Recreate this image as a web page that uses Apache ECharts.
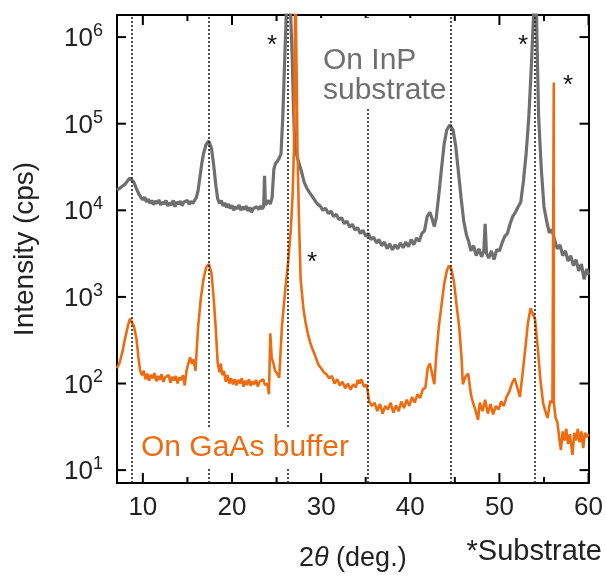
<!DOCTYPE html>
<html>
<head>
<meta charset="utf-8">
<title>XRD</title>
<script src="https://cdn.jsdelivr.net/npm/echarts@6/dist/echarts.min.js"></script>
<style>
  html, body { margin: 0; padding: 0; background: #fff; }
  #chart { width: 606px; height: 577px; }
</style>
</head>
<body>
<div id="chart"></div>
<script>
// 2θ (deg.), intensity (cps) -- film on InP substrate
const onInP = [
  [7.1, 1.7e4], [7.4, 1.8e4], [7.7, 1.9e4], [8.0, 2.0e4], [8.3, 2.2e4], [8.55, 2.35e4], [8.75, 2.4e4],
  [9.0, 2.1e4], [9.3, 1.75e4], [9.55, 1.55e4], [9.8, 1.4e4], [10.0, 1.32e4], [10.2, 1.42e4], [10.4, 1.25e4],
  [10.6, 1.35e4], [10.8, 1.2e4], [11.0, 1.3e4], [11.2, 1.16e4], [11.4, 1.28e4], [11.6, 1.2e4], [11.8, 1.32e4],
  [12.0, 1.15e4], [12.2, 1.25e4], [12.4, 1.18e4], [12.6, 1.3e4], [12.8, 1.12e4], [13.0, 1.22e4], [13.2, 1.15e4],
  [13.4, 1.3e4], [13.6, 1.1e4], [13.8, 1.25e4], [14.0, 1.18e4], [14.2, 1.28e4], [14.4, 1.13e4], [14.6, 1.25e4],
  [14.8, 1.2e4], [15.0, 1.3e4], [15.2, 1.17e4], [15.4, 1.27e4], [15.6, 1.2e4], [15.8, 1.3e4], [16.0, 1.4e4],
  [16.2, 1.7e4], [16.4, 2.4e4], [16.6, 3.4e4], [16.8, 4.5e4], [17.1, 5.8e4], [17.4, 6.3e4], [17.7, 5.2e4],
  [17.95, 3.3e4], [18.2, 1.9e4], [18.4, 1.35e4], [18.6, 1.2e4], [18.8, 1.3e4], [19.0, 1.12e4], [19.2, 1.22e4],
  [19.4, 1.08e4], [19.6, 1.18e4], [19.8, 1.05e4], [20.0, 1.14e4], [20.2, 1.0e4], [20.4, 1.1e4], [20.6, 1.04e4],
  [20.8, 1.15e4], [21.0, 1.0e4], [21.2, 1.1e4], [21.4, 1.02e4], [21.6, 1.12e4], [21.8, 9.8e3], [22.0, 1.08e4],
  [22.2, 9.5e3], [22.4, 1.05e4], [22.6, 1.0e4], [22.8, 1.1e4], [23.0, 1.02e4], [23.2, 1.12e4], [23.4, 1.04e4],
  [23.55, 1.1e4], [23.65, 2.5e4], [23.75, 1.15e4], [23.9, 1.2e4], [24.1, 1.3e4], [24.3, 1.18e4], [24.5, 1.4e4],
  [24.7, 3.0e4], [24.9, 3.5e4], [25.1, 3.7e4], [25.3, 4.0e4], [25.5, 4.5e4], [25.7, 1.2e5], [25.9, 5e5],
  [26.1, 2e6], [26.3, 8e6], [26.5, 3e6], [26.75, 6e5], [26.9, 1.5e5], [27.05, 5.5e4], [27.3, 4.2e4],
  [27.5, 4.0e4], [27.8, 2.8e4], [28.1, 2.1e4], [28.4, 1.8e4], [28.7, 1.6e4], [29.0, 1.45e4], [29.3, 1.3e4],
  [29.6, 1.18e4], [29.9, 1.12e4], [30.2, 1.0e4], [30.5, 1.06e4], [30.8, 9.2e3], [31.1, 9.8e3], [31.4, 8.5e3],
  [31.7, 9.0e3], [32.0, 7.8e3], [32.3, 8.2e3], [32.6, 7.0e3], [32.9, 7.5e3], [33.2, 6.4e3], [33.5, 6.9e3],
  [33.8, 5.9e3], [34.1, 6.3e3], [34.4, 5.4e3], [34.7, 5.9e3], [35.0, 5.0e3], [35.3, 5.4e3], [35.6, 4.6e3],
  [35.9, 4.9e3], [36.2, 4.2e3], [36.5, 4.6e3], [36.8, 3.9e3], [37.1, 4.3e3], [37.4, 3.6e3], [37.7, 4.1e3],
  [38.0, 3.5e3], [38.3, 4.0e3], [38.6, 3.6e3], [38.9, 4.2e3], [39.2, 3.7e3], [39.5, 4.3e3], [39.8, 3.8e3],
  [40.1, 4.6e3], [40.4, 4.0e3], [40.7, 4.8e3], [41.0, 4.4e3], [41.3, 5.4e3], [41.6, 5.8e3], [41.9, 8.5e3],
  [42.2, 9.5e3], [42.45, 8.0e3], [42.7, 6.5e3], [42.9, 8.0e3], [43.2, 1.5e4], [43.5, 3.0e4], [43.8, 5.8e4],
  [44.1, 8.5e4], [44.45, 9.7e4], [44.8, 8.5e4], [45.1, 5.5e4], [45.4, 2.8e4], [45.7, 1.4e4], [46.0, 7.5e3],
  [46.3, 5.2e3], [46.55, 4.4e3], [46.8, 3.4e3], [47.1, 3.9e3], [47.4, 3.0e3], [47.7, 3.6e3], [48.0, 2.9e3],
  [48.25, 3.4e3], [48.4, 7.0e3], [48.55, 3.2e3], [48.8, 2.8e3], [49.1, 3.4e3], [49.4, 2.7e3], [49.7, 3.5e3],
  [50.0, 3.4e3], [50.3, 4.2e3], [50.6, 5.0e3], [50.9, 5.4e3], [51.2, 7.0e3], [51.5, 8.5e3], [51.8, 9.5e3],
  [52.1, 1.1e4], [52.4, 1.25e4], [52.7, 2.2e4], [53.0, 4.5e4], [53.3, 1.2e5], [53.6, 5e5], [53.85, 2e6],
  [54.0, 8e6], [54.15, 2e6], [54.4, 1.2e5], [54.7, 3.0e4], [55.0, 1.1e4], [55.3, 7.5e3], [55.6, 5.5e3],
  [55.9, 6.0e3], [56.2, 4.5e3], [56.5, 3.6e3], [56.8, 4.0e3], [57.1, 3.0e3], [57.4, 3.4e3], [57.7, 2.6e3],
  [58.0, 3.0e3], [58.3, 2.3e3], [58.6, 2.7e3], [58.9, 2.0e3], [59.2, 2.4e3], [59.5, 1.6e3], [59.8, 2.1e3],
  [60.0, 1.8e3]
];

// film on GaAs buffer
const onGaAs = [
  [7.1, 150], [7.4, 175], [7.7, 230], [8.0, 330], [8.3, 450], [8.55, 560], [8.75, 580], [9.0, 460],
  [9.3, 320], [9.5, 200], [9.7, 140], [9.9, 125], [10.1, 140], [10.3, 112], [10.5, 130], [10.7, 108],
  [10.9, 126], [11.1, 115], [11.3, 132], [11.5, 106], [11.7, 122], [11.9, 110], [12.1, 128], [12.3, 104],
  [12.5, 118], [12.7, 112], [12.9, 125], [13.1, 102], [13.3, 120], [13.5, 108], [13.7, 122], [13.9, 100],
  [14.1, 118], [14.3, 110], [14.5, 125], [14.7, 95], [14.9, 140], [15.1, 170], [15.3, 200], [15.5, 170],
  [15.7, 190], [15.9, 140], [16.2, 450], [16.5, 950], [16.8, 1600], [17.1, 2200], [17.4, 2400], [17.7, 1900],
  [17.95, 950], [18.2, 400], [18.4, 170], [18.6, 135], [18.75, 170], [18.9, 125], [19.1, 140], [19.3, 105],
  [19.5, 125], [19.7, 100], [19.9, 115], [20.1, 98], [20.3, 112], [20.5, 95], [20.7, 110], [20.9, 100],
  [21.1, 115], [21.3, 92], [21.5, 108], [21.7, 96], [21.9, 112], [22.1, 94], [22.3, 106], [22.5, 98],
  [22.7, 110], [22.9, 92], [23.1, 105], [23.3, 100], [23.5, 112], [23.7, 96], [23.95, 100], [24.15, 75],
  [24.3, 380], [24.45, 200], [24.65, 170], [24.85, 140], [25.05, 130], [25.3, 117], [25.6, 450], [26.0, 1300],
  [26.3, 2500], [26.6, 6000], [26.8, 1.5e4], [26.95, 5e4], [27.05, 1e6], [27.12, 5e6], [27.2, 1e6], [27.35, 5e4],
  [27.5, 9e3], [27.7, 1.6e3], [28.0, 750], [28.25, 510], [28.5, 380], [28.8, 290], [29.1, 240], [29.4, 200],
  [29.7, 165], [30.0, 150], [30.3, 135], [30.6, 128], [30.9, 115], [31.2, 122], [31.5, 100], [31.8, 112],
  [32.1, 95], [32.4, 105], [32.7, 88], [33.0, 100], [33.3, 85], [33.6, 98], [33.9, 90], [34.1, 110],
  [34.3, 100], [34.5, 112], [34.8, 92], [35.1, 97], [35.4, 62], [35.7, 55], [36.0, 60], [36.3, 48],
  [36.6, 58], [36.9, 45], [37.2, 55], [37.5, 50], [37.8, 60], [38.1, 46], [38.4, 56], [38.7, 48],
  [39.0, 62], [39.3, 52], [39.6, 65], [39.9, 55], [40.2, 70], [40.5, 60], [40.8, 75], [41.1, 68],
  [41.4, 85], [41.7, 90], [41.95, 150], [42.2, 170], [42.45, 130], [42.7, 98], [42.9, 200], [43.2, 450],
  [43.5, 800], [43.8, 1400], [44.1, 2000], [44.35, 2300], [44.6, 2100], [44.9, 1500], [45.2, 800], [45.5, 440],
  [45.75, 200], [45.9, 98], [46.2, 120], [46.5, 130], [46.8, 75], [47.0, 62], [47.3, 50], [47.6, 38],
  [47.8, 60], [48.1, 48], [48.4, 65], [48.7, 45], [49.0, 58], [49.3, 44], [49.6, 55], [49.9, 50],
  [50.2, 62], [50.5, 55], [50.8, 70], [51.1, 80], [51.4, 100], [51.7, 115], [52.0, 90], [52.3, 70],
  [52.6, 130], [52.9, 250], [53.2, 500], [53.5, 740], [53.7, 760], [54.0, 550], [54.3, 260], [54.6, 110],
  [54.9, 60], [55.1, 50], [55.4, 40], [55.7, 63], [55.95, 60], [56.09, 60], [56.1, 3e5], [56.11, 60],
  [56.3, 40], [56.5, 36], [56.7, 24], [56.9, 17], [57.1, 28], [57.3, 22], [57.5, 30], [57.7, 20],
  [57.9, 26], [58.2, 15], [58.4, 27], [58.6, 22], [58.8, 30], [59.0, 21], [59.2, 28], [59.4, 18],
  [59.6, 27], [59.8, 24], [60.0, 26]
];

// film reflections (dotted guides)
const peakLines = [8.74, 17.4, 26.3, 35.25, 44.5, 54.0];

// tick positions
const xMajor = [10, 20, 30, 40, 50, 60];
const xMinor = [15, 25, 35, 45, 55];
const yDecades = [10, 100, 1000, 10000, 100000, 1000000];

const FONT = "Liberation Sans";
const GRAY = "#6f6f6f";
const ORANGE = "#ef6b10";

const chart = echarts.init(document.getElementById("chart"));

const axisStroke = { color: "#000", width: 2 };
const tickStyle = { stroke: "#000", lineWidth: 2 };

// inner ticks on all four sides of the box, placed through the axes' own scales
function xTickSeries(values, len) {
  return {
    type: "custom",
    silent: true,
    z: 6,
    data: values.map((v) => [v, 100]),
    encode: { x: 0, y: 1 },
    renderItem: (params, api) => {
      const cs = params.coordSys;
      const px = api.coord([api.value(0), 100])[0];
      const bottom = cs.y + cs.height;
      return {
        type: "group",
        children: [
          { type: "line", shape: { x1: px, y1: bottom, x2: px, y2: bottom - len }, style: tickStyle },
          { type: "line", shape: { x1: px, y1: cs.y, x2: px, y2: cs.y + len }, style: tickStyle }
        ]
      };
    }
  };
}

function yTickSeries(values, len) {
  return {
    type: "custom",
    silent: true,
    z: 6,
    data: values.map((v) => [30, v]),
    encode: { x: 0, y: 1 },
    renderItem: (params, api) => {
      const cs = params.coordSys;
      const py = api.coord([30, api.value(1)])[1];
      const right = cs.x + cs.width;
      return {
        type: "group",
        children: [
          { type: "line", shape: { x1: cs.x, y1: py, x2: cs.x + len, y2: py }, style: tickStyle },
          { type: "line", shape: { x1: right, y1: py, x2: right - len, y2: py }, style: tickStyle }
        ]
      };
    }
  };
}

function xAxisFor(pos, withLabel) {
  return {
    type: "value",
    position: pos,
    min: 7.1,
    max: 60,
    axisLine: { show: true, onZero: false, lineStyle: axisStroke },
    axisTick: { show: false },
    axisLabel: withLabel
      ? { customValues: xMajor, fontSize: 26, color: "#222", fontFamily: FONT, margin: 12 }
      : { show: false },
    splitLine: { show: false }
  };
}

function yAxisFor(pos, withLabel) {
  return {
    type: "log",
    logBase: 10,
    position: pos,
    min: 7.1,
    max: 1.8e6,
    axisLine: { show: true, onZero: false, lineStyle: axisStroke },
    axisTick: { show: false },
    axisLabel: withLabel
      ? {
          customValues: yDecades,
          margin: 14,
          formatter: (v) => "{b|10}{s|" + Math.round(Math.log10(v)) + "}",
          rich: {
            b: { fontSize: 26, fontFamily: FONT, color: "#222", lineHeight: 30, verticalAlign: "bottom" },
            s: { fontSize: 18, fontFamily: FONT, color: "#222", lineHeight: 14, verticalAlign: "top" }
          }
        }
      : { show: false },
    splitLine: { show: false },
    name: withLabel ? "Intensity (cps)" : "",
    nameLocation: "middle",
    nameRotate: 90,
    nameGap: 78,
    nameTextStyle: { fontSize: 28, fontFamily: FONT, color: "#222" }
  };
}

const bottomAxis = xAxisFor("bottom", true);
bottomAxis.name = "{a|2}{i|θ}{a| (deg.)}";
bottomAxis.nameLocation = "middle";
bottomAxis.nameGap = 62;
bottomAxis.nameTextStyle = {
  rich: {
    a: { fontSize: 27, fontFamily: FONT, color: "#222" },
    i: { fontSize: 27, fontFamily: FONT, color: "#222", fontStyle: "italic" }
  }
};

const txt = { fontFamily: FONT };
const star = (x, y) => ({
  type: "text", x: x, y: y, z: 10,
  style: Object.assign({ text: "*", fontSize: 26, fill: "#111", align: "center", verticalAlign: "middle" }, txt)
});

chart.setOption({
  animation: false,
  grid: {
    left: 117,
    right: 15,
    top: 15,
    bottom: 87
  },
  xAxis: [bottomAxis, xAxisFor("top", false)],
  yAxis: [yAxisFor("left", true), yAxisFor("right", false)],
  series: [
    {
      // dotted guides only
      type: "line",
      data: [],
      z: 1,
      markLine: {
        silent: true,
        symbol: "none",
        label: { show: false },
        lineStyle: { type: [2, 2], color: "#222", width: 1.6 },
        data: peakLines.map((x) => ({ xAxis: x }))
      }
    },
    {
      name: "On InP substrate",
      type: "line",
      data: onInP,
      showSymbol: false,
      z: 3,
      lineStyle: { color: GRAY, width: 3.2 }
    },
    {
      name: "On GaAs buffer",
      type: "line",
      data: onGaAs,
      showSymbol: false,
      z: 4,
      lineStyle: { color: ORANGE, width: 2.6 }
    },
    xTickSeries(xMajor, 10),
    xTickSeries(xMinor, 6),
    yTickSeries(yDecades, 9)
  ],
  graphic: [
    {
      type: "text", left: 320, top: 18, z: 10,
      style: Object.assign({
        text: "On InP\nsubstrate", fontSize: 30, lineHeight: 30, fill: GRAY,
        backgroundColor: "#fff", padding: [28, 3, 2, 3]
      }, txt)
    },
    {
      type: "text", left: 138, top: 429, z: 10,
      style: Object.assign({
        text: "On GaAs buffer", fontSize: 30, lineHeight: 34, fill: ORANGE,
        backgroundColor: "#fff", padding: [2, 3, 2, 3]
      }, txt)
    },
    star(272, 46),
    star(312, 263),
    star(523, 46),
    star(568, 86),
    {
      type: "text", right: 4, top: 537, z: 10,
      style: Object.assign({ text: "*Substrate", fontSize: 29, fill: "#222" }, txt)
    }
  ]
});
</script>
</body>
</html>
